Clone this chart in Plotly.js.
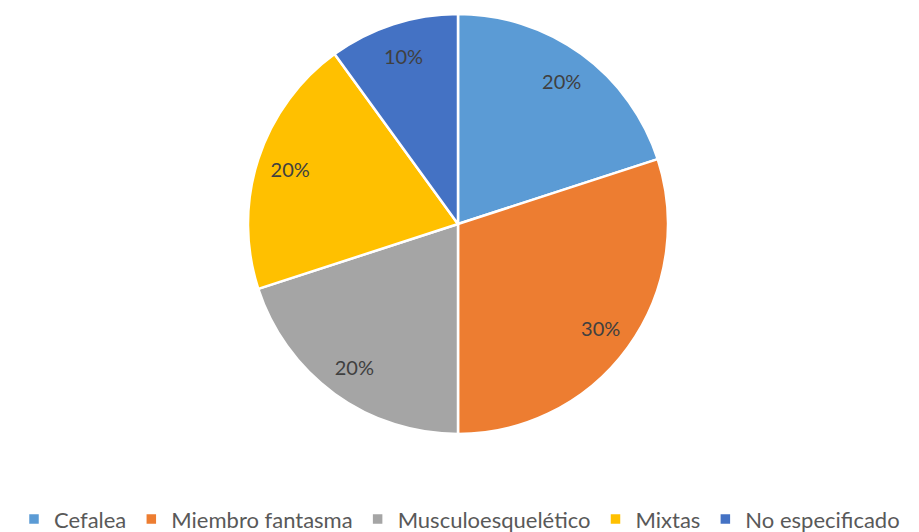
<!DOCTYPE html>
<html><head><meta charset="utf-8">
<script src="https://cdn.plot.ly/plotly-3.0.1.min.js"></script>
<style>html,body{margin:0;padding:0;background:#fff}#chart{width:919px;height:532px}</style>
</head><body><div id="chart"></div>
<script>
const categories = ["Cefalea", "Miembro fantasma", "Musculoesquelético", "Mixtas", "No especificado"];
const values = [20, 30, 20, 20, 10];
const colors = ["#5B9BD5", "#ED7D31", "#A5A5A5", "#FFC000", "#4472C4"];

const W = 919, H = 532;
const cx = 458, cy = 224, r = 210;
const dom = {x: [(cx - r) / W, (cx + r) / W], y: [1 - (cy + r) / H, 1 - (cy - r) / H]};
const font = "Lato, 'Open Sans', sans-serif";
const pie = {
  type: "pie",
  labels: categories,
  values: values,
  sort: false,
  direction: "clockwise",
  rotation: 0,
  marker: {colors: colors, line: {color: "#ffffff", width: 2.5}},
  textinfo: "none",
  hoverinfo: "none",
  domain: dom
};
// transparent ring carrying the percentage labels near the outer edge
const labelsRing = {
  type: "pie",
  labels: categories,
  values: values,
  sort: false,
  direction: "clockwise",
  rotation: 0,
  hole: 0.68,
  showlegend: false,
  marker: {colors: categories.map(() => "rgba(0,0,0,0)"), line: {width: 0}},
  textinfo: "percent",
  texttemplate: "%{percent:.0%}",
  textposition: "inside",
  insidetextorientation: "horizontal",
  textfont: {family: font, size: 20, color: "#404040"},
  hoverinfo: "none",
  domain: dom
};
const layout = {
  width: W, height: H,
  margin: {l: 0, r: 0, t: 0, b: 0, autoexpand: false},
  paper_bgcolor: "#fff",
  showlegend: true,
  legend: {orientation: "h", x: 0.5, xanchor: "center", y: 0.024, yanchor: "middle",
    font: {family: font, size: 22, color: "#595959"},
    traceorder: "normal"}
};
Plotly.newPlot("chart", [pie, labelsRing], layout, {displayModeBar: false, staticPlot: true});
</script></body></html>
